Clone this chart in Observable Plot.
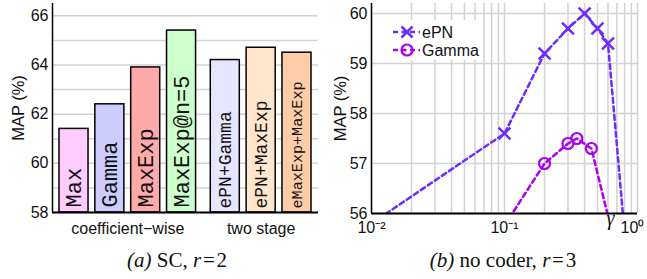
<!DOCTYPE html>
<html>
<head>
<meta charset="utf-8">
<script src="https://cdn.jsdelivr.net/npm/d3@7"></script>
<script src="https://cdn.jsdelivr.net/npm/@observablehq/plot@0.6"></script>
<style>
  html, body { margin: 0; padding: 0; background: #fff; }
  #page { position: relative; width: 647px; height: 279px; overflow: hidden; background: #fff; font-family: "Liberation Sans", Arial, sans-serif; }
  #left { position: absolute; left: 0; top: 0; }
  #right { position: absolute; left: 320px; top: 0; }
  #legend { position: absolute; left: 392px; top: 20px; width: 86px; height: 40px; background: #fff; }
  .cap { position: absolute; top: 250px; width: 300px; text-align: center; font-family: "Liberation Serif", "DejaVu Serif", serif; font-size: 21px; line-height: 1; color: #111; white-space: nowrap; }
</style>
</head>
<body>
<div id="page">
  <div id="left"></div>
  <div id="right"></div>
  <div id="legend"></div>
  <div class="cap" style="left:27px"><i>(a)</i> SC, <i>r</i>&#8202;=&#8202;2</div>
  <div class="cap" style="left:353px"><i>(b)</i> no coder, <i>r</i>&#8202;=&#8202;3</div>
</div>
<script>
// ---------- data: panel (a) ----------
const methods = ["Max", "Gamma", "MaxExp", "MaxExp@n=5", "ePN+Gamma", "ePN+MaxExp", "eMaxExp+MaxExp"];
const mapValues = [61.4, 62.4, 63.9, 65.4, 64.2, 64.7, 64.5];
const methodGroup = [0, 0, 0, 0, 1, 1, 1];
const groupNames = ["coefficient\u2212wise", "two stage"];
const leftTicks = [58, 60, 62, 64, 66];
const yLabel = "MAP (%)";

// ---------- data: panel (b) ----------
const ePNGamma = [0.01, 0.1, 0.2, 0.3, 0.4, 0.5, 0.6, 0.8];
const ePNMap = [55.8, 57.6, 59.2, 59.7, 60.0, 59.7, 59.4, 55.6];
const gammaGamma = [0.1, 0.2, 0.3, 0.35, 0.45, 0.6];
const gammaMap = [55.76, 57.0, 57.4, 57.5, 57.3, 55.95];
const rightTicks = [56, 57, 58, 59, 60];
const logTicks = [0.01, 0.1, 1];

// ---------- styles ----------
const barColors = ["#ffccff", "#ccccff", "#ffaaaa", "#ccffcc", "#e6e6ff", "#ffe6cc", "#ffcca8"];
const ePNColor = "#6a2cff";
const gammaColor = "#aa00ee";
const gridColor = "#d2d2d2";
const GROUP_GAP = 0.22;
const BAR_HALF = 0.405;
const baseStyle = { background: "transparent", fontFamily: "Liberation Sans, Arial, sans-serif", fontSize: "16px", color: "#111", overflow: "visible" };

// ---------- panel (a) ----------
const bars = methods.map((m, i) => ({
  method: m,
  value: mapValues[i],
  group: methodGroup[i],
  pos: i + methodGroup[i] * GROUP_GAP
}));
const xDomL = [-0.6, d3.max(bars, d => d.pos) + 0.6];
const yDomL = [leftTicks[0], 66.5];
const groups = groupNames.map((g, gi) => ({
  name: g,
  pos: d3.mean(bars.filter(b => b.group === gi), b => b.pos)
}));

const left = Plot.plot({
  width: 320, height: 240,
  marginLeft: 52, marginRight: 2, marginTop: 3, marginBottom: 28,
  style: baseStyle,
  x: { type: "linear", domain: xDomL, axis: null },
  y: { domain: yDomL },
  color: { domain: methods, range: barColors },
  marks: [
    Plot.gridY(d3.range(leftTicks[0], leftTicks[leftTicks.length - 1] + 1), { stroke: gridColor, strokeOpacity: 1, strokeWidth: 1.5 }),
    Plot.axisY(leftTicks, { tickSize: 0, tickPadding: 4, fontSize: 16, tickFormat: d => String(d), label: null }),
    Plot.text([yLabel], { frameAnchor: "left", dx: -34, rotate: -90, textAnchor: "middle", lineAnchor: "middle", fontSize: 16.5, fill: "#111" }),
    Plot.rectY(bars, { x1: d => d.pos - BAR_HALF, x2: d => d.pos + BAR_HALF, y1: yDomL[0], y2: "value", fill: "method", stroke: "#000", strokeWidth: 1.5 }),
    Plot.text(bars.filter(d => d.group === 0), {
      x: "pos", y: yDomL[0], text: "method", rotate: -90, textAnchor: "start", lineAnchor: "middle",
      dy: -5, fontFamily: "Liberation Mono, DejaVu Sans Mono, monospace", fontSize: 22, fill: "#111"
    }),
    Plot.text(bars.filter(d => d.group === 1), {
      x: "pos", y: yDomL[0], text: "method", rotate: -90, textAnchor: "start", lineAnchor: "middle",
      dy: -4, fontFamily: "Liberation Mono, DejaVu Sans Mono, monospace",
      fontSize: d => Math.min(18, 212 / d.method.length), fill: "#111"
    }),
    Plot.text(groups, { x: "pos", text: "name", frameAnchor: "bottom", dy: 16, lineAnchor: "middle", fontSize: 16, fill: "#111" }),
    Plot.ruleY([yDomL[0]], { stroke: "#000", strokeWidth: 2 }),
    Plot.ruleX([xDomL[0]], { stroke: "#000", strokeWidth: 1.5 })
  ]
});
document.getElementById("left").appendChild(left);

// ---------- panel (b) ----------
const ePNData = ePNGamma.map((g, i) => ({ g, v: ePNMap[i] }));
const gammaData = gammaGamma.map((g, i) => ({ g, v: gammaMap[i] }));
const xDomR = [logTicks[0], logTicks[logTicks.length - 1]];
const yDomR = [rightTicks[0], 60.2];
const inside = d => d.v >= yDomR[0] && d.v <= yDomR[1];
const minorGrid = [];
for (const base of [0.01, 0.1]) for (let k = 1; k <= 9; k++) minorGrid.push(base * k);
minorGrid.push(1);
const supers = { "-": "\u207b", "0": "\u2070", "1": "\u00b9", "2": "\u00b2", "3": "\u00b3" };
const fmtPow = d => "10" + String(Math.round(Math.log10(d))).split("").map(c => supers[c]).join("");

const right = Plot.plot({
  width: 327, height: 240,
  marginLeft: 51, marginRight: 10, marginTop: 3, marginBottom: 27,
  style: baseStyle,
  x: { type: "log", domain: xDomR },
  y: { domain: yDomR },
  marks: [
    Plot.gridX(minorGrid, { stroke: gridColor, strokeOpacity: 1, strokeWidth: 1.5 }),
    Plot.gridY(rightTicks, { stroke: gridColor, strokeOpacity: 1, strokeWidth: 1.5 }),
    Plot.axisY(rightTicks, { tickSize: 0, tickPadding: 4, fontSize: 16, tickFormat: d => String(d), label: null }),
    Plot.text([yLabel], { frameAnchor: "left", dx: -31, rotate: -90, textAnchor: "middle", lineAnchor: "middle", fontSize: 16.5, fill: "#111" }),
    Plot.axisX(logTicks.slice(0, -1), { tickSize: 0, tickPadding: 8, fontSize: 16, tickFormat: fmtPow, label: null }),
    Plot.axisX(logTicks.slice(-1), { tickSize: 0, tickPadding: 8, fontSize: 16, tickFormat: fmtPow, label: null, dx: -5 }),
    Plot.line(ePNData, { x: "g", y: "v", stroke: ePNColor, strokeWidth: 2.5, strokeDasharray: "5,3.5", clip: true }),
    Plot.line(gammaData, { x: "g", y: "v", stroke: gammaColor, strokeWidth: 2.5, strokeDasharray: "5,3.5", clip: true }),
    Plot.dot(ePNData.filter(inside), { x: "g", y: "v", symbol: "times", r: 5.5, stroke: ePNColor, strokeWidth: 2.5 }),
    Plot.dot(gammaData.filter(inside), { x: "g", y: "v", symbol: "circle", r: 5.5, fill: "none", stroke: gammaColor, strokeWidth: 2.2 }),
    Plot.ruleY([yDomR[0]], { stroke: "#000", strokeWidth: 2 }),
    Plot.ruleX([xDomR[0]], { stroke: "#000", strokeWidth: 1.5 }),
    Plot.text(["\u03b3"], { frameAnchor: "bottom-right", dx: -23, dy: 11, fontFamily: "Liberation Serif, serif", fontStyle: "italic", fontSize: 20, fill: "#111" })
  ]
});
document.getElementById("right").appendChild(right);

// ---------- legend ----------
const legendItems = [
  { name: "ePN", color: ePNColor, mark: "x" },
  { name: "Gamma", color: gammaColor, mark: "o" }
];
document.getElementById("legend").innerHTML = legendItems.map((it, i) => {
  const cy = 12 + i * 18;
  const marker = it.mark === "x"
    ? `<path d="M9.5,${cy - 5.5}L20.5,${cy + 5.5}M9.5,${cy + 5.5}L20.5,${cy - 5.5}" stroke="${it.color}" stroke-width="2.5" fill="none"/>`
    : `<circle cx="15" cy="${cy}" r="5.5" stroke="${it.color}" stroke-width="2.2" fill="none"/>`;
  return `<svg width="86" height="18" style="position:absolute;left:0;top:${cy - 9}px;overflow:visible">
    <g transform="translate(0,${-cy + 9})">
    <line x1="1" x2="28" y1="${cy}" y2="${cy}" stroke="${it.color}" stroke-width="2.5" stroke-dasharray="5,3.5"/>
    ${marker}
    <text x="30" y="${cy}" dy="0.36em" font-family="Liberation Sans, Arial, sans-serif" font-size="16" fill="#111">${it.name}</text>
    </g></svg>`;
}).join("");
</script>
</body>
</html>
